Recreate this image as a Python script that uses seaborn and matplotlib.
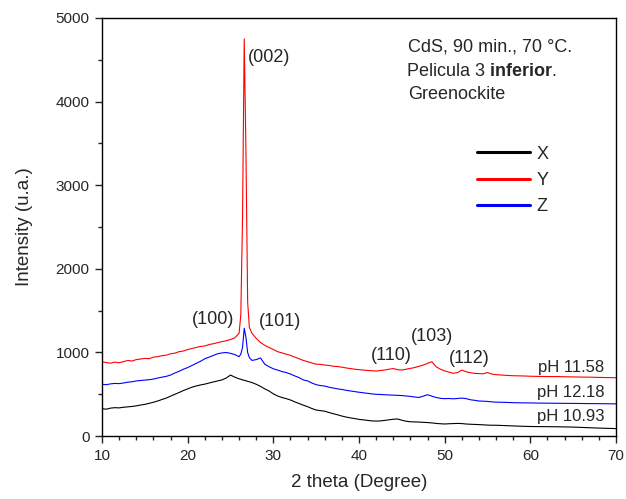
import pandas as pd
import matplotlib
matplotlib.use('Agg')
import matplotlib.pyplot as plt
from matplotlib.ticker import MultipleLocator
import seaborn as sns

# Ejes 2 theta (grados), muestreo manual
two_theta = [10, 10.5, 11, 11.5, 12, 12.5, 13, 13.5, 14, 14.5, 15, 15.5, 16, 16.5,
             17, 17.5, 18, 18.5, 19, 19.5, 20, 20.5, 21, 21.5, 22, 22.5, 23, 23.5,
             24, 24.5, 25, 25.5, 26,
             26.2, 26.4, 26.6, 26.8, 27, 27.2,
             27.5, 28, 28.5, 29, 29.5, 30, 30.5, 31, 31.5, 32, 32.5, 33, 33.5, 34,
             34.5, 35, 35.5, 36, 36.5, 37, 37.5, 38, 38.5, 39, 39.5, 40, 40.5, 41,
             41.5, 42, 42.5, 43, 43.5, 44, 44.5, 45, 45.5, 46, 46.5, 47, 47.5, 48,
             48.5, 49, 49.5, 50, 50.5, 51, 51.5, 52, 52.5, 53, 53.5, 54, 54.5, 55,
             55.5, 56,
             57, 58, 59, 60, 61, 62, 63, 64, 65, 66, 67, 68, 69, 70]

# pH 10.93
int_x = [328, 322, 335, 340, 338, 345, 350, 355, 362, 372, 380, 392, 405, 420,
         438, 455, 478, 500, 522, 545, 565, 585, 600, 612, 622, 635, 648, 660,
         672, 695, 730, 705, 685,
         680, 672, 668, 662, 655, 650,
         640, 620, 595, 565, 540, 505, 480, 462, 448, 432, 410, 390, 370, 352,
         330, 312, 305, 298, 282, 268, 255, 240, 228, 218, 210, 200, 195, 188,
         182, 180, 182, 188, 195, 202, 205, 190, 178, 172, 170, 168, 165, 162,
         158, 152, 148, 145, 148, 150, 152, 150, 145, 142, 140, 138, 135, 132,
         130, 130,
         126, 122, 118, 115, 114, 113, 112, 110, 108, 104, 100, 96, 93, 90]

# pH 11.58
int_y = [888, 880, 872, 885, 878, 890, 905, 898, 915, 922, 930, 926, 945, 950,
         962, 968, 985, 992, 1010, 1018, 1035, 1048, 1060, 1072, 1078, 1095, 1105, 1118,
         1130, 1140, 1155, 1175, 1230,
         1450, 2600, 4750, 3400, 1600, 1300,
         1230, 1170, 1120, 1085, 1060, 1035, 1010, 995, 980, 965, 945, 925, 905, 890,
         875, 860, 858, 850, 845, 835, 832, 825, 815, 808, 800, 795, 790, 785,
         782, 778, 785, 790, 800, 808, 795, 790, 800, 810, 820, 835, 850, 870,
         890, 830, 800, 780, 765, 752, 760, 790, 770, 758, 750, 748, 745, 760,
         742, 735,
         728, 722, 720, 716, 714, 712, 712, 710, 708, 706, 705, 702, 700, 698]

# pH 12.18
int_z = [620, 615, 625, 630, 628, 635, 645, 650, 660, 665, 670, 675, 682, 695,
         705, 715, 730, 755, 775, 800, 820, 845, 870, 895, 925, 945, 965, 985,
         995, 1000, 990, 975, 950,
         980, 1060, 1290, 1180, 1000, 940,
         905, 915, 935, 860, 830, 805, 790, 772, 760, 742, 720, 700, 672, 660,
         635, 615, 605, 598, 585, 575, 565, 558, 548, 540, 532, 525, 518, 512,
         505, 500, 498, 495, 492, 490, 488, 485, 480, 475, 468, 462, 478, 495,
         478, 462, 452, 448, 450, 446, 450, 455, 448, 435, 428, 420, 418, 415,
         410, 406,
         404, 400, 398, 397, 395, 394, 393, 392, 391, 390, 389, 388, 387, 386]

series_names = ['X', 'Y', 'Z']
series_colors = {'X': 'black', 'Y': 'red', 'Z': 'blue'}

df = pd.DataFrame({'two_theta': two_theta, 'X': int_x, 'Y': int_y, 'Z': int_z})
df_long = df.melt(id_vars='two_theta', value_vars=series_names,
                  var_name='muestra', value_name='intensidad')

sns.set_style('ticks')
plt.rcParams['font.family'] = ['Liberation Sans', 'DejaVu Sans']
plt.rcParams['mathtext.fontset'] = 'custom'
plt.rcParams['mathtext.rm'] = 'Liberation Sans'
plt.rcParams['mathtext.bf'] = 'Liberation Sans:bold'

fig = plt.figure(figsize=(6.26, 4.99), dpi=100)
ax = fig.add_axes([0.163, 0.126, 0.821, 0.838])

sns.lineplot(data=df_long, x='two_theta', y='intensidad', hue='muestra',
             hue_order=series_names, palette=series_colors, estimator=None,
             sort=False, linewidth=0.8, ax=ax)

ax.set_xlim(10, 70)
ax.set_ylim(0, 5000)
ax.xaxis.set_major_locator(MultipleLocator(10))
ax.xaxis.set_minor_locator(MultipleLocator(2))
ax.yaxis.set_major_locator(MultipleLocator(1000))
ax.yaxis.set_minor_locator(MultipleLocator(500))
ax.tick_params(which='major', direction='out', length=5, width=1, labelsize=11, pad=4)
ax.tick_params(which='minor', direction='out', length=3, width=1)
for s in ax.spines.values():
    s.set_linewidth(1)
    s.set_color('black')

ax.set_xlabel('2 theta (Degree)', fontsize=13.5, labelpad=8)
ax.set_ylabel('Intensity (u.a.)', fontsize=13.5, labelpad=16)

# Planos cristalinos
ax.text(27.0, 4530, '(002)', fontsize=13, ha='left', va='center')
ax.text(22.96, 1396, '(100)', fontsize=13, ha='center', va='center')
ax.text(30.78, 1372, '(101)', fontsize=13, ha='center', va='center')
ax.text(43.8, 965, '(110)', fontsize=13, ha='center', va='center')
ax.text(48.5, 1189, '(103)', fontsize=13, ha='center', va='center')
ax.text(52.9, 925, '(112)', fontsize=13, ha='center', va='center')

# Etiquetas de pH
ax.text(64.7, 818, 'pH 11.58', fontsize=12, ha='center', va='center')
ax.text(64.7, 519, 'pH 12.18', fontsize=12, ha='center', va='center')
ax.text(64.7, 232, 'pH 10.93', fontsize=12, ha='center', va='center')

# Descripcion de la muestra
ax.text(45.7, 4649, 'CdS, 90 min., 70 °C.', fontsize=13, ha='left', va='center')
ax.text(45.5, 4362, r'Pelicula 3 $\mathbf{inferior}$.', fontsize=13, ha='left', va='center')
ax.text(45.7, 4087, 'Greenockite', fontsize=13, ha='left', va='center')

handles, labels = ax.get_legend_handles_labels()
for h in handles:
    h.set_linewidth(2.2)
ax.legend(handles, labels, frameon=False, fontsize=13, loc='upper left',
          bbox_to_anchor=(0.716, 0.712), handlelength=2.9, handletextpad=0.4,
          labelspacing=0.52, borderaxespad=0)

fig.savefig('out.png', dpi=100)
